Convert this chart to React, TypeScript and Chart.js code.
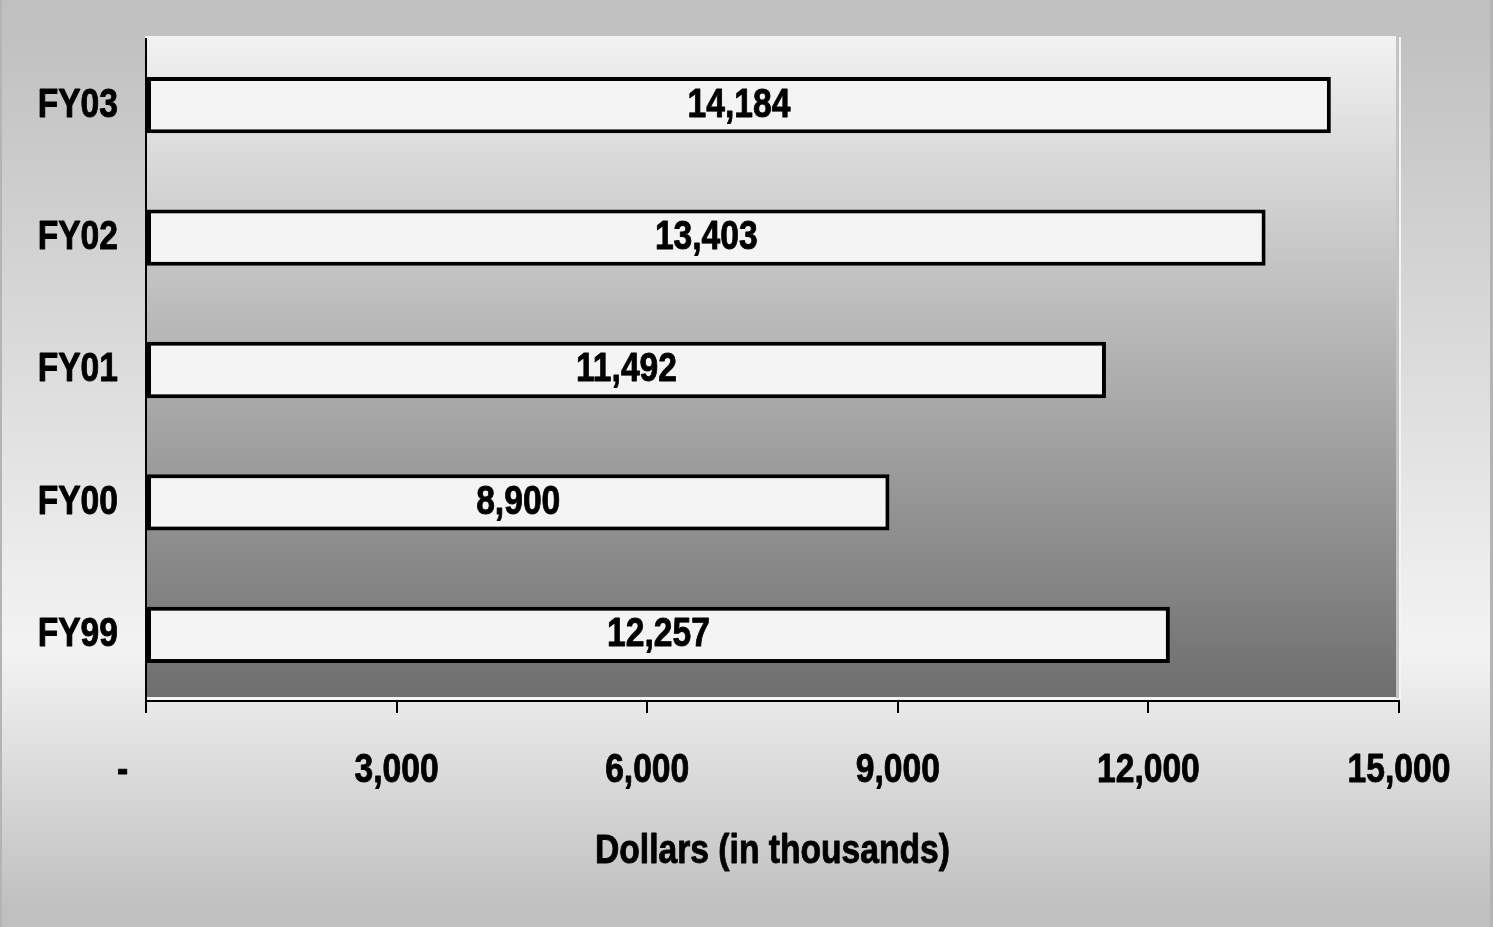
import React, { useEffect, useRef } from "react";
import { Chart, registerables } from "chart.js";

Chart.register(...registerables);

const categories = ["FY99", "FY00", "FY01", "FY02", "FY03"];
const budgetValues = [12257, 8900, 11492, 13403, 14184];
const axisMin = 0;
const axisMax = 15000;
const axisStep = 3000;
const axisTitle = "Dollars (in thousands)";

// Arial Narrow look-alike: Liberation Sans Bold, compressed horizontally
const FONT_FAMILY = "'Liberation Sans', Arial, sans-serif";
const NARROW = 0.82;
const font = { family: FONT_FAMILY, size: 41, weight: "bold" as const };

const fmt = (v: number) => v.toLocaleString("en-US");

const backgroundPlugin = {
  id: "bgPlugin",
  beforeDraw(chart: any) {
    const { ctx, width, height, chartArea } = chart;
    ctx.save();
    const g = ctx.createLinearGradient(0, 0, 0, height);
    g.addColorStop(0, "#c0c0c0");
    g.addColorStop(0.04, "#c1c1c1");
    g.addColorStop(0.7, "#f3f3f3");
    g.addColorStop(0.98, "#c0c0c0");
    g.addColorStop(1, "#c0c0c0");
    ctx.fillStyle = g;
    ctx.fillRect(0, 0, width, height);
    ctx.fillStyle = "#b4b4b4";
    ctx.fillRect(0, 0, 2, height);
    ctx.fillRect(width - 3, 0, 3, height);

    const top = 36;
    const bottom = chartArea.bottom - 4;
    const left = chartArea.left - 1;
    const right = chartArea.right - 3;
    ctx.fillStyle = "#f4f4f4";
    ctx.fillRect(left, top + 1, right - left + 5, chartArea.bottom - top - 1);
    ctx.fillStyle = "#c4c4c4";
    ctx.fillRect(right, top + 1, 3, bottom - top);
    const pg = ctx.createLinearGradient(0, top, 0, bottom);
    pg.addColorStop(0, "#f2f2f2");
    pg.addColorStop(1, "#6e6e6e");
    ctx.fillStyle = pg;
    ctx.fillRect(left, top, right - left, bottom - top);
    ctx.restore();
  },
};

const valueLabelPlugin = {
  id: "valueLabels",
  afterDatasetsDraw(chart: any) {
    const { ctx } = chart;
    const meta = chart.getDatasetMeta(0);
    const data = chart.data.datasets[0].data as number[];
    ctx.save();
    ctx.font = `bold 41px ${FONT_FAMILY}`;
    ctx.fillStyle = "#000";
    ctx.textAlign = "center";
    ctx.textBaseline = "middle";
    meta.data.forEach((el: any, i: number) => {
      const { x, y, base } = el.getProps(["x", "y", "base"], true);
      ctx.fillText(fmt(data[i]), (x + base) / 2, y);
    });
    ctx.restore();
  },
};

export default function App() {
  const canvasRef = useRef<HTMLCanvasElement | null>(null);

  useEffect(() => {
    const canvas = canvasRef.current;
    if (!canvas) return;
    const ctx = canvas.getContext("2d") as CanvasRenderingContext2D;
    const origFill = ctx.fillText.bind(ctx);
    const origStroke = ctx.strokeText.bind(ctx);
    (ctx as any).fillText = (text: string, x: number, y: number, maxWidth?: number) => {
      ctx.save();
      ctx.translate(x, y);
      ctx.scale(NARROW, 1);
      const mw = maxWidth !== undefined ? maxWidth / NARROW : undefined;
      if (mw !== undefined) origFill(text, 0, 0, mw);
      else origFill(text, 0, 0);
      // slight stroke to match the heavier weight of the original face
      ctx.strokeStyle = ctx.fillStyle;
      ctx.lineWidth = 0.9;
      ctx.lineJoin = "round";
      if (mw !== undefined) origStroke(text, 0, 0, mw);
      else origStroke(text, 0, 0);
      ctx.restore();
    };

    const chart = new Chart(ctx, {
      type: "bar",
      data: {
        labels: categories,
        datasets: [
          {
            data: budgetValues,
            backgroundColor: "#f4f4f4",
            borderColor: "#000000",
            borderWidth: 4,
            borderSkipped: false,
            barPercentage: 0.85,
            categoryPercentage: 0.5,
          },
        ],
      },
      options: {
        indexAxis: "y",
        responsive: false,
        animation: false,
        layout: { padding: { top: 39, right: 94, left: 0, bottom: 0 } },
        plugins: {
          legend: { display: false },
          tooltip: { enabled: false },
        },
        scales: {
          x: {
            min: axisMin,
            max: axisMax,
            ticks: {
              stepSize: axisStep,
              color: "#000",
              font,
              padding: 33,
              maxRotation: 0,
              autoSkip: false,
              callback: (v: any) => (Number(v) === 0 ? "-     " : fmt(Number(v))),
            },
            grid: {
              drawOnChartArea: false,
              color: "#000",
              lineWidth: 2,
              tickLength: 12,
            },
            border: { color: "#000", width: 2 },
            title: {
              display: true,
              text: axisTitle,
              color: "#000",
              font,
              padding: { top: 0, bottom: 51 },
            },
            afterFit: (s: any) => {
              s.height = 226;
              s.paddingLeft = 0;
              s.paddingRight = 0;
            },
          },
          y: {
            reverse: true,
            ticks: { color: "#000", font, padding: 28 },
            grid: { display: false, drawTicks: false },
            border: { color: "#000", width: 2 },
            afterFit: (s: any) => {
              s.width = 146;
              s.paddingTop = 0;
              s.paddingBottom = 0;
            },
          },
        },
      },
      plugins: [backgroundPlugin, valueLabelPlugin],
    });
    return () => chart.destroy();
  }, []);

  return (
    <div style={{ position: "fixed", left: 0, top: 0, width: 1493, height: 927 }}>
      <canvas ref={canvasRef} width={1493} height={927} style={{ display: "block" }} />
    </div>
  );
}
